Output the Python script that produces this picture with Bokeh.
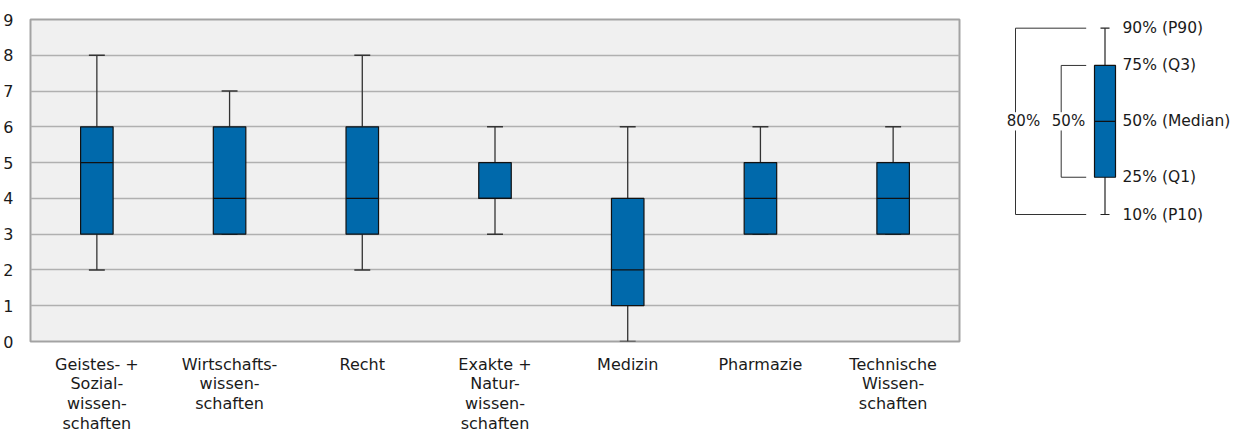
from bokeh.plotting import figure
from bokeh.layouts import row
from bokeh.models import Range1d, FixedTicker, LabelSet, ColumnDataSource
from bokeh.core.properties import value
from bokeh.embed import file_html
from bokeh.resources import INLINE

# ---- data ----
categories = [
    "Geistes- +\nSozial-\nwissen-\nschaften",
    "Wirtschafts-\nwissen-\nschaften",
    "Recht",
    "Exakte +\nNatur-\nwissen-\nschaften",
    "Medizin",
    "Pharmazie",
    "Technische\nWissen-\nschaften",
]
p10 = [2, 3, 2, 3, 0, 3, 3]
q1 = [3, 3, 3, 4, 1, 3, 3]
median = [5, 4, 4, 4, 2, 4, 4]
q3 = [6, 6, 6, 5, 4, 5, 5]
p90 = [8, 7, 8, 6, 6, 6, 6]
y_ticks = [0, 1, 2, 3, 4, 5, 6, 7, 8, 9]

legend_labels = ["10% (P10)", "25% (Q1)", "50% (Median)", "75% (Q3)", "90% (P90)"]
legend_stats = [0, 1, 2.5, 4, 5]  # schematic P10, Q1, Median, Q3, P90
bracket_labels = ["80%", "50%"]

FONT = value("DejaVu Sans")
TXT = "#1a1a1a"
BOX = "#0069ab"
EDGE = "#111111"

n = len(categories)
xs = [i + 0.5 for i in range(n)]
box_w = 0.245
cap_h = 0.06

p = figure(frame_width=929, frame_height=322, x_range=Range1d(0, n), y_range=Range1d(0, 9),
           output_backend="svg", toolbar_location=None,
           min_border_left=23, min_border_right=7, min_border_top=19, min_border_bottom=0)
p.background_fill_color = "#f0f0f0"
p.border_fill_color = "white"
p.outline_line_color = "#a3a3a3"
p.outline_line_width = 2

p.xgrid.grid_line_color = None
p.ygrid.ticker = FixedTicker(ticks=y_ticks)
p.ygrid.grid_line_color = "#b0b0b0"
p.ygrid.grid_line_width = 1.5

p.yaxis.ticker = FixedTicker(ticks=y_ticks)
p.xaxis.ticker = FixedTicker(ticks=xs)
p.xaxis.major_label_overrides = {x: c for x, c in zip(xs, categories)}
for ax in (p.xaxis[0], p.yaxis[0]):
    ax.axis_line_color = None
    ax.major_tick_line_color = None
    ax.minor_tick_line_color = None
    ax.major_label_text_font = "DejaVu Sans"
    ax.major_label_text_font_size = "16px"
    ax.major_label_text_color = TXT
p.yaxis.major_label_standoff = 11
p.xaxis.major_label_standoff = 7
p.xaxis.major_label_text_line_height = 1.05

# whiskers
p.segment(x0=xs, y0=p10, x1=xs, y1=q1, line_color="#333333", line_width=1.3)
p.segment(x0=xs, y0=q3, x1=xs, y1=p90, line_color="#333333", line_width=1.3)
p.segment(x0=[x - cap_h for x in xs], y0=p10, x1=[x + cap_h for x in xs], y1=p10,
          line_color="#333333", line_width=1.5)
p.segment(x0=[x - cap_h for x in xs], y0=p90, x1=[x + cap_h for x in xs], y1=p90,
          line_color="#333333", line_width=1.5)
# boxes
p.vbar(x=xs, width=box_w, bottom=q1, top=q3, fill_color=BOX, line_color=EDGE, line_width=1.2)
p.segment(x0=[x - box_w / 2 for x in xs], y0=median, x1=[x + box_w / 2 for x in xs], y1=median,
          line_color=EDGE, line_width=1.2)

# ---- legend key ----
lg = figure(frame_width=268, frame_height=322, x_range=Range1d(0, 268),
            y_range=Range1d(-3.408, 5.233),
            output_backend="svg", toolbar_location=None, x_axis_type=None, y_axis_type=None,
            min_border_left=0, min_border_right=0, min_border_top=19, min_border_bottom=0)
lg.outline_line_color = None
lg.xgrid.grid_line_color = None
lg.ygrid.grid_line_color = None
lg.border_fill_color = "white"
lg.background_fill_color = "white"

L10, L25, L50, L75, L90 = legend_stats
cx, bw, ch = 138.5, 21, 4.5
gap = 0.245
lg.segment(x0=[cx], y0=[L10], x1=[cx], y1=[L90], line_color="#222222", line_width=1.2)
lg.segment(x0=[cx - ch, cx - ch], y0=[L10, L90], x1=[cx + ch, cx + ch], y1=[L10, L90],
           line_color="#222222", line_width=1.2)
lg.vbar(x=[cx], width=bw, bottom=[L25], top=[L75], fill_color=BOX, line_color=EDGE, line_width=1.2)
lg.segment(x0=[cx - bw / 2], y0=[L50], x1=[cx + bw / 2], y1=[L50], line_color=EDGE, line_width=1.2)

b80, b50, bend = 49, 94.7, 119.7
lg.segment(x0=[bend, b80, b80, b80], y0=[L90, L90, L50 - gap, L10],
           x1=[b80, b80, b80, bend], y1=[L90, L50 + gap, L10, L10],
           line_color="#333333", line_width=1)
lg.segment(x0=[bend, b50, b50, b50], y0=[L75, L75, L50 - gap, L25],
           x1=[b50, b50, b50, bend], y1=[L75, L50 + gap, L25, L25],
           line_color="#333333", line_width=1)

src = ColumnDataSource(dict(x=[156] * len(legend_labels), y=legend_stats, t=legend_labels))
lg.add_layout(LabelSet(x="x", y="y", text="t", source=src,
                       text_align="left", text_baseline="middle", text_font=FONT,
                       text_font_size=value("15.5px"), text_color=TXT))
lg.text(x=[57, 102], y=[L50, L50], text=bracket_labels,
        text_align="center", text_baseline="middle", text_font=FONT,
        text_font_size="15px", text_color=TXT)

layout = row(p, lg)
open("out.html", "w").write(file_html(layout, INLINE))
